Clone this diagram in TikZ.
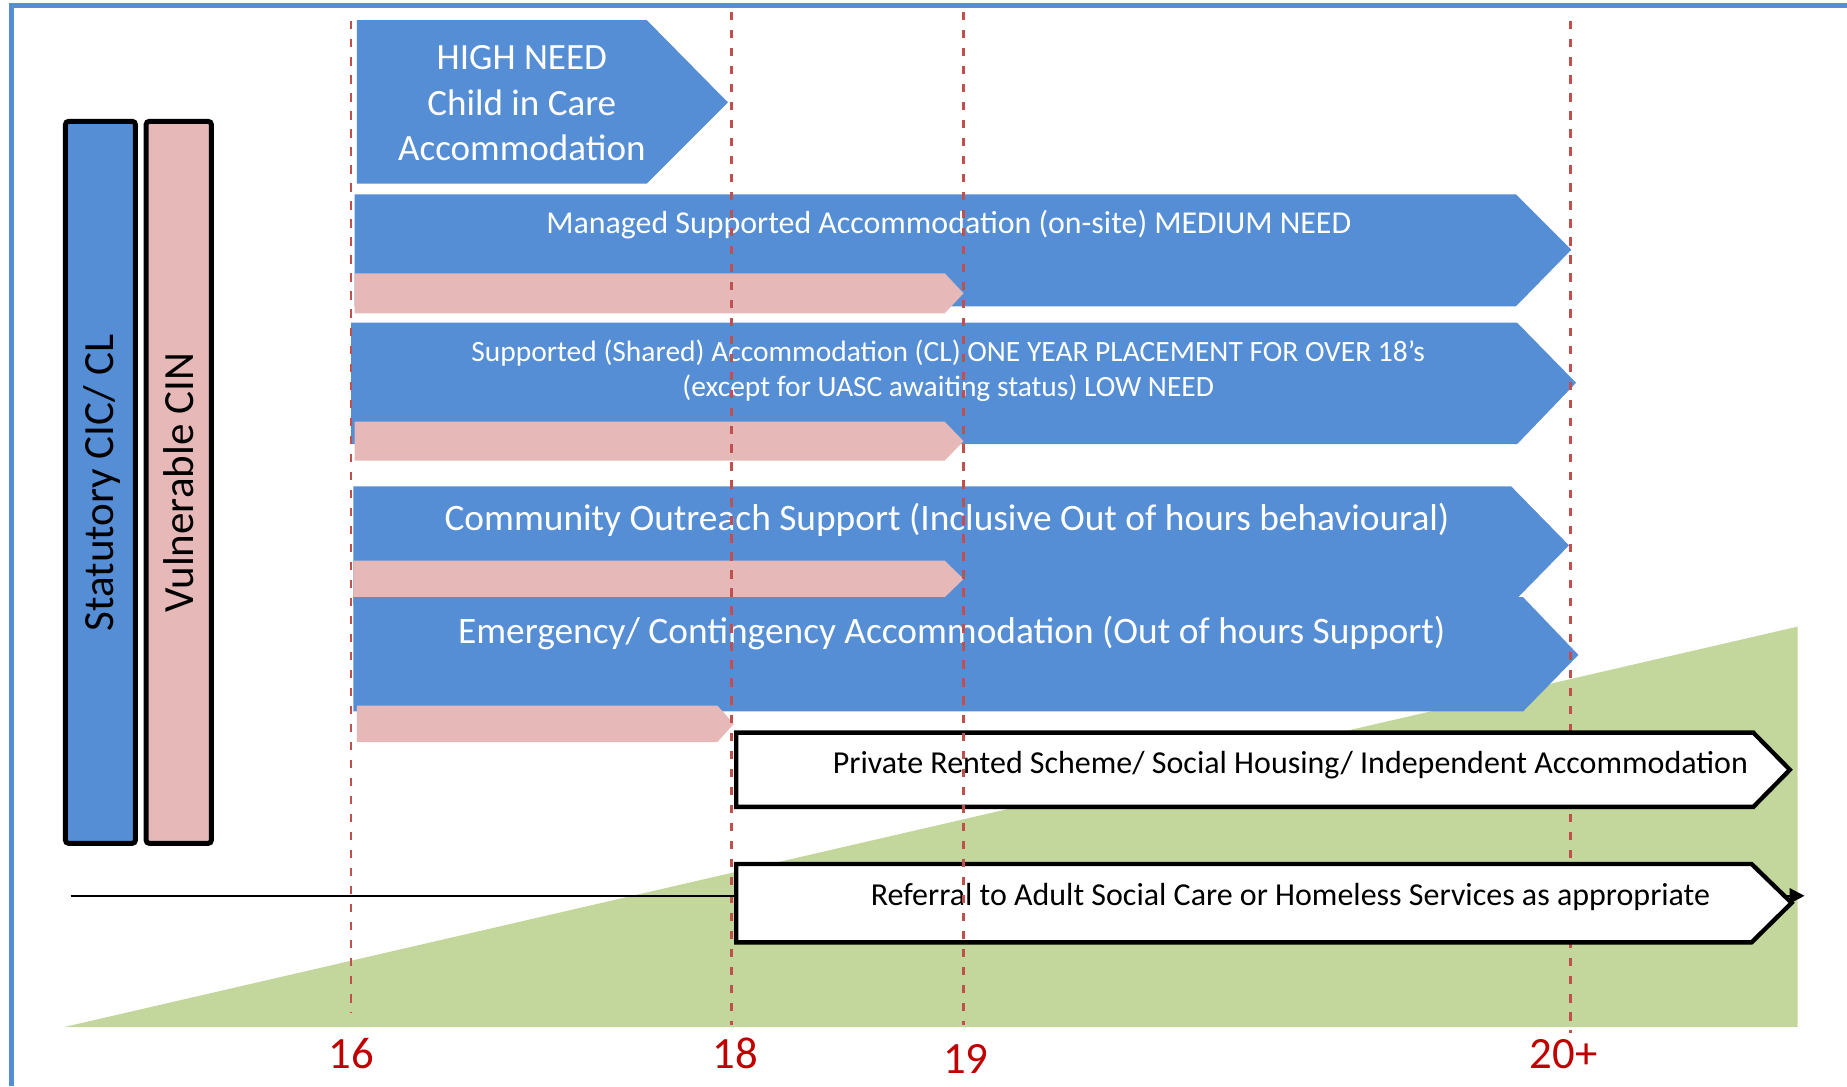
\documentclass[tikz,border=0pt]{standalone}
\usepackage{fontspec}
\setmainfont{Carlito}
\usetikzlibrary{arrows.meta}

\definecolor{needblue}{RGB}{85,142,213}
\definecolor{cinpink}{RGB}{230,185,184}
\definecolor{leavegreen}{RGB}{195,214,155}
\definecolor{dashred}{RGB}{192,80,77}
\definecolor{agered}{RGB}{192,0,0}

\begin{document}
\begin{tikzpicture}[x=0.01cm, y=-0.01cm,
    agemark/.style={draw=dashred, line width=0.7pt, dash pattern=on 2pt off 2.35pt},
    bluearrow/.style={fill=needblue},
    pinkarrow/.style={fill=cinpink},
    whitebox/.style={draw=black, fill=white, line width=1.05pt, miter limit=10},
    groupbar/.style={draw=black, line width=1.2pt, rounded corners=0.8pt},
    bluetext/.style={text=white, inner sep=0pt},
    boxtext/.style={text=black, inner sep=0pt, anchor=base, font=\fontsize{7.72}{9}\selectfont},
    agetext/.style={text=agered, inner sep=0pt, anchor=base, font=\fontsize{10.8}{13}\selectfont}]
    \useasboundingbox (0,0) rectangle (1568,922);

    % Frame
    \draw[needblue, line width=1.2pt] (8,5) -- (1568,5);
    \draw[needblue, line width=1.2pt] (9.5,3) -- (9.5,922);

    % Leaving care wedge
    \fill[leavegreen] (54,872) -- (1526,872) -- (1526,532) -- cycle;

    % Groups
    \draw[groupbar, fill=needblue] (55.5,103) rectangle (115,716);
    \draw[groupbar, fill=cinpink] (124,103) rectangle (179.5,716);
    \node[inner sep=0pt, rotate=90, anchor=base, font=\fontsize{10.4}{12}\selectfont] (statutory) at (96.5,410) {Statutory CIC/ CL};
    \node[inner sep=0pt, rotate=90, anchor=base, font=\fontsize{10.4}{12}\selectfont] (vulnerable) at (164.5,410) {Vulnerable CIN};

    % Accommodation bands
    \fill[bluearrow] (303,17) -- (549,17) -- (618,87) -- (549,156) -- (303,156) -- cycle;
    \node[bluetext, align=center, font=\fontsize{8.95}{10.95}\selectfont] (highneed) at (443,87.6) {HIGH NEED\\Child in Care\\Accommodation};

    \fill[bluearrow] (301,165) -- (1287,165) -- (1334,212) -- (1287,260) -- (301,260) -- cycle;
    \fill[pinkarrow] (301,232) -- (802,232) -- (818,249) -- (802,266) -- (301,266) -- cycle;
    \node[bluetext, anchor=base, font=\fontsize{7.7}{9}\selectfont] (managed) at (805.5,198) {Managed Supported Accommodation (on-site) MEDIUM NEED};

    \fill[bluearrow] (298,274) -- (1288,274) -- (1338,325) -- (1288,377) -- (298,377) -- cycle;
    \fill[pinkarrow] (301,358) -- (802,358) -- (818,374.5) -- (802,391) -- (301,391) -- cycle;
    \node[bluetext, align=center, font=\fontsize{7.12}{8.25}\selectfont] (supported) at (805,314.7) {Supported (Shared) Accommodation (CL) ONE YEAR PLACEMENT FOR OVER 18’s\\(except for UASC awaiting status) LOW NEED};

    \fill[bluearrow] (300,413) -- (1283,413) -- (1332,463) -- (1283,513) -- (300,513) -- cycle;
    \fill[pinkarrow] (300,476) -- (802,476) -- (818,491.5) -- (802,507) -- (300,507) -- cycle;
    \node[bluetext, anchor=base, font=\fontsize{9.02}{10.5}\selectfont] (outreach) at (804,450.6) {Community Outreach Support (Inclusive Out of hours behavioural)};

    \fill[bluearrow] (300,507) -- (1293,507) -- (1340,556) -- (1293,604) -- (300,604) -- cycle;
    \fill[pinkarrow] (303,599) -- (609,599) -- (623,614.5) -- (609,630) -- (303,630) -- cycle;
    \node[bluetext, anchor=base, font=\fontsize{9.02}{10.5}\selectfont] (emergency) at (808,546.6) {Emergency/ Contingency Accommodation (Out of hours Support)};

    % Age lines
    \draw[agemark] (298,18) -- (298,860);
    \draw[agemark] (621,10) -- (621,870);
    \draw[agemark] (1333,18) -- (1333,877);

    % Pathway line
    \coordinate (lineStart) at (60,760.5);
    \coordinate (lineEnd) at (1532,760.5);
    \draw[line width=0.55pt, -{Triangle[length=3.6pt,width=3.6pt]}] (lineStart) -- (lineEnd);

    % Move on options
    \draw[whitebox] (625,622) -- (1488.5,622) -- (1519.5,653.5) -- (1488.5,685) -- (625,685) -- cycle;
    \node[boxtext] (privrent) at (1095.5,656.5) {Private Rented Scheme/ Social Housing/ Independent Accommodation};
    \draw[whitebox] (625,733.5) -- (1487,733.5) -- (1521,766.5) -- (1487,800) -- (625,800) -- cycle;
    \node[boxtext] (referral) at (1095.5,768.5) {Referral to Adult Social Care or Homeless Services as appropriate};

    \draw[agemark] (818,10) -- (818,870);

    % Ages
    \node[agetext] (age16) at (298,907) {16};
    \node[agetext] (age18) at (624,907) {18};
    \node[agetext] (age19) at (820,911) {19};
    \node[agetext] (age20) at (1327.5,907) {20+};
\end{tikzpicture}
\end{document}
